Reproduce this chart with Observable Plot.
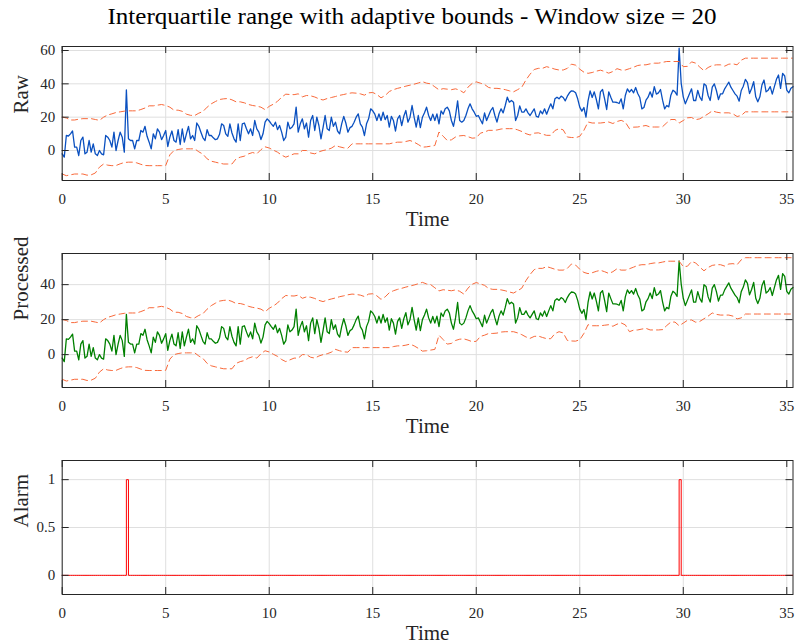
<!DOCTYPE html>
<html>
<head>
<meta charset="utf-8">
<script src="https://cdn.jsdelivr.net/npm/d3@7"></script>
<script src="https://cdn.jsdelivr.net/npm/@observablehq/plot@0.6"></script>
<style>
  body { margin: 0; background: #fff; }
  #fig { position: relative; width: 795px; height: 644px; overflow: hidden; font-family: "Liberation Serif", serif; }
  #title { position: absolute; left: 412px; top: 4px; display: inline-block; font-size: 23px; color: #000; white-space: nowrap; transform-origin: 50% 50%; }
  .panel { position: absolute; left: 0; }
</style>
</head>
<body>
<div id="fig">
  <span id="title">Interquartile range with adaptive bounds - Window size = 20</span>
</div>
<script>
// Sampling interval of the signal (s)
const dt = 0.1;

// Raw signal, one value per sample
const raw = [
  -2, -4, 9, 8.7, 10, 11.7, 2, 2, -3, 6,
  8, -2, -1, 6, -1, 4, -2, -3, 0, -2,
  -2.6, 9, 8, 6, 2, 11, 0, 6, 11, 8,
  -1, 36.3, 7, 6, 6, 1, 6, 6, 12, 11,
  14.5, 8.5, 5, 1, 10, 7, 13, 11, 6.5, 9,
  12, 2.4, 8, 11.7, 6, 5, 12.5, 3.6, 13, 5,
  10, 14.5, 7, 9, 6, 16.5, 14.5, 11, 7.6, 6,
  12.5, 9, 9, 7.6, 6.5, 7, 9.7, 16, 15, 10,
  8.5, 16, 10.5, 7, 5, 16, 6, 16, 16.5, 13,
  10, 13, 9, 18, 13, 11, 6.6, 10, 17, 19,
  17.7, 16, 14.5, 17, 12.5, 15, 11, 6, 8, 17,
  13, 14, 16, 26, 11, 16, 19, 13, 16.5, 8,
  18, 21, 12, 20, 15, 7, 13.7, 21, 13, 12,
  20, 14.5, 17, 11.7, 10, 16, 20.5, 16.5, 11, 13.7,
  14.5, 17, 20, 22, 16, 14, 9, 16, 19, 25,
  23.8, 21.8, 18, 22, 18, 23, 18.5, 21, 14, 20.5,
  18, 11.7, 19, 21, 15, 20.5, 24, 17, 20, 27,
  20, 14, 21, 13.7, 20, 22.6, 26, 21, 18, 21.8,
  18, 22, 16, 23.8, 21.8, 25, 26, 23.8, 18, 14.5,
  21, 29.8, 18, 17, 18, 21, 25, 28, 25, 23,
  20.5, 21, 18.5, 16, 22.5, 18, 21, 24, 25.8, 21,
  17, 22, 25, 22.6, 27, 32, 29, 30, 29, 18,
  21, 26.8, 23, 23, 25, 22.6, 21, 23, 25, 20.5,
  20, 23.8, 22, 25, 21.8, 25, 28, 25, 31, 32,
  31, 32.6, 31.8, 29.8, 32.6, 34.6, 35.8, 35.6, 34.6, 31,
  26, 23.6, 25.8, 20, 29.8, 35.8, 31.8, 35.2, 30.6, 25,
  35.2, 36.6, 31, 24.6, 35.2, 32, 29, 29, 28.8, 28.2,
  31, 25, 33, 37, 35, 36.6, 34.6, 37.8, 34.2, 31.8,
  25, 25.8, 30.2, 32, 35.2, 32, 38.3, 33.8, 34.6, 36.6,
  30.2, 25, 27, 26.2, 33.2, 36.2, 35.2, 33.2, 61.4, 40.3,
  32.2, 28, 31, 34, 37, 30, 30, 36, 32, 30,
  40, 39, 33, 30, 38, 40, 36, 30.6, 34, 34,
  37, 39, 41, 38, 36, 34, 32.6, 29.6, 36, 38.6,
  42.7, 40.7, 34.2, 37.2, 41.3, 32.2, 29.2, 32.2, 39.3, 42.3,
  35.2, 36.2, 38.3, 33.8, 38.3, 42.7, 45.3, 37.3, 46.3, 44.7,
  36.2, 34.6, 37.3, 38.3
];

// Adaptive bounds, listed every 0.2 s
const boundStep = 0.2;
const upperBound = [
  20.1, 19.5, 18.3, 18.3, 18.8, 19.1, 19.1, 19.1, 18.6, 18.1,
  20, 21.3, 22, 22.8, 23.2, 23.6, 23.8, 23.8, 23.8, 24.6,
  25.5, 26.8, 26.8, 27.2, 27.6, 27, 26, 24.2, 24.2, 23.5,
  21.8, 21.1, 21, 22.4, 23.4, 26, 28, 29.4, 30.6, 31,
  31.2, 30.4, 29.2, 29.2, 28.6, 27.6, 27, 26.6, 26, 24.5,
  26.5, 27.8, 29.5, 32, 33.8, 33.6, 33.5, 34, 32.2, 33,
  32.8, 32.1, 31, 30.3, 31.2, 31.8, 32.4, 33.1, 33.6, 34.2,
  34.6, 34.4, 34, 33.2, 34.6, 34.8, 33.6, 31.6, 33, 35.4,
  36.5, 37.3, 37.9, 38.6, 39.2, 39.8, 40.5, 41.3, 40.4, 40,
  38.2, 36.4, 37.1, 36.8, 36.5, 37, 36.2, 34.6, 38, 40.2,
  41.2, 40.4, 39.6, 37.8, 37.3, 37.3, 37, 36.5, 35.8, 35.2,
  36.5, 38, 42.3, 45.8, 48.6, 49.3, 49.3, 50.3, 49.6, 48.8,
  48.3, 48.3, 49.3, 51.8, 51.2, 48.8, 47, 46.3, 46.8, 47.6,
  48.2, 47.4, 46.4, 47.4, 49.1, 48.3, 48.3, 49.1, 50, 51,
  51.4, 51.4, 52, 52.4, 52.4, 52.9, 53.4, 53.4, 53.4, 53.4,
  50.3, 50.5, 53.2, 52.4, 50, 47.9, 49.8, 51, 51.4, 51.4,
  50.6, 51.8, 52, 51.4, 54.2, 55.4, 55.4, 55.4, 55.4, 55.4,
  55.4, 55.4, 55.4, 55.4, 55.4, 55.4, 55.4, 55.4
];
const lowerBound = [
  -14.1, -15.1, -14.6, -14.1, -14.1, -14.1, -14.8, -14.6, -13.5, -10,
  -8.1, -8.8, -9.1, -9, -8, -7.2, -7, -7, -7.4, -8.3,
  -9, -9.1, -9.1, -9.1, -9.1, -9, -2.6, 0, 0.6, 1,
  1, 1, 1, -0.8, -2.2, -5, -6.4, -7, -7.6, -8.1,
  -8.1, -8.1, -5, -4, -3.4, -2, -1.2, -2, 0.5, 2.2,
  1.5, 0.2, -1, -2.8, -4, -3, -2, -2, 0, 0,
  -1.5, -2, -0.8, 0, 0.5, 1.4, 3, 2.2, 1.6, 1.4,
  4, 4, 4, 4, 4, 4, 4, 4, 4, 4,
  4.6, 5, 5, 5.4, 6, 5, 3.6, 2, 2.2, 2.6,
  3, 11.1, 8.6, 6, 6.4, 8.1, 8.8, 9, 8.3, 7.4,
  7.6, 10.4, 11.1, 12.1, 12.1, 12.3, 12.9, 13.1, 13.1, 13.1,
  12.4, 11.4, 10.1, 9.3, 10.4, 10.6, 9.8, 9.1, 9.1, 12,
  13.1, 12.4, 8.1, 7.8, 7.7, 8.5, 12.1, 17.1, 16.5, 16.5,
  16.5, 16.8, 17.1, 16.2, 17.4, 18.1, 17, 13.1, 14, 14.1,
  14.6, 15, 14.1, 14.1, 14.1, 14.3, 16.6, 18.6, 18.6, 16.5,
  18, 19.6, 19.8, 18.5, 19, 20.5, 22, 23.8, 23, 22.6,
  22.6, 22.6, 22, 20.4, 21, 23.2, 23.2, 23.2, 23.2, 23.2,
  23.2, 23.2, 23.2, 23.2, 23.2, 23.2, 23.2, 23.2
];

// Samples flagged as outliers, and the value each one is replaced with
const outlierIndex = [31, 298];
const replacedValue = [23, 53.5];

// Tick values
const timeTicks = [0, 5, 10, 15, 20, 25, 30, 35];
const rawTicks = [0, 20, 40, 60];
const processedTicks = [0, 20, 40];
const alarmTicks = [0, 0.5, 1];

// Tables for the marks
const samples = raw.map((v, i) => {
  const k = outlierIndex.indexOf(i);
  return {t: i * dt, raw: v, processed: k >= 0 ? replacedValue[k] : v, alarm: k >= 0 ? 1 : 0};
});
const bounds = upperBound.map((u, j) => ({t: j * boundStep, upper: u, lower: lowerBound[j]}));

const W = 795, ML = 61.7, MR = 2.5, MT = 46;
const ink = "#262626";
const gridColor = "#dfdfdf";
const boundColor = "#f8693a";
const font = '"Liberation Serif", serif';
const fmt = d => String(d);

function panel({top, height, marginBottom, yDomain, yTicks, yLabel, marks}) {
  const fw = W - ML - MR, fh = height - MT - marginBottom, tl = 7;
  const svg = Plot.plot({
    width: W, height,
    marginLeft: ML, marginRight: MR, marginTop: MT, marginBottom,
    style: {fontFamily: font, background: "transparent", color: ink, overflow: "visible"},
    x: {domain: [0, 35.3]},
    y: {domain: yDomain},
    marks: [
      Plot.gridX(timeTicks, {stroke: gridColor, strokeOpacity: 1}),
      Plot.gridY(yTicks, {stroke: gridColor, strokeOpacity: 1}),
      ...marks,
      Plot.tickX(timeTicks, {x: d => d, insetTop: fh - tl, stroke: ink}),
      Plot.tickX(timeTicks, {x: d => d, insetBottom: fh - tl, stroke: ink}),
      Plot.tickY(yTicks, {y: d => d, insetRight: fw - tl, stroke: ink}),
      Plot.tickY(yTicks, {y: d => d, insetLeft: fw - tl, stroke: ink}),
      Plot.frame({stroke: ink, strokeWidth: 1}),
      Plot.axisX(timeTicks, {tickSize: 0, tickPadding: 13, fontSize: 15, label: null, fill: ink, tickFormat: fmt}),
      Plot.axisY(yTicks, {tickSize: 0, tickPadding: 7, fontSize: 15, label: null, fill: ink, tickFormat: fmt}),
      Plot.text([yLabel], {frameAnchor: "left", dx: -41, rotate: -90, fontSize: 21, fill: ink}),
      Plot.text(["Time"], {frameAnchor: "bottom", dy: 45, fontSize: 21, fill: ink})
    ]
  });
  svg.classList.add("panel");
  svg.style.top = top + "px";
  document.getElementById("fig").appendChild(svg);
}

const dash = "6,4";

panel({
  top: 0, height: 240, marginBottom: 60,
  yDomain: [-18, 62.4], yTicks: rawTicks, yLabel: "Raw",
  marks: [
    Plot.line(samples, {x: "t", y: "raw", stroke: "#0a50c0", strokeWidth: 1.3}),
    Plot.line(bounds, {x: "t", y: "upper", stroke: boundColor, strokeWidth: 1, strokeDasharray: dash, clip: true}),
    Plot.line(bounds, {x: "t", y: "lower", stroke: boundColor, strokeWidth: 1, strokeDasharray: dash, clip: true})
  ]
});

panel({
  top: 207, height: 240, marginBottom: 60,
  yDomain: [-18.8, 57.8], yTicks: processedTicks, yLabel: "Processed",
  marks: [
    Plot.line(samples, {x: "t", y: "processed", stroke: "#008000", strokeWidth: 1.3}),
    Plot.line(bounds, {x: "t", y: "upper", stroke: boundColor, strokeWidth: 1, strokeDasharray: dash, clip: true}),
    Plot.line(bounds, {x: "t", y: "lower", stroke: boundColor, strokeWidth: 1, strokeDasharray: dash, clip: true})
  ]
});

panel({
  top: 414, height: 230, marginBottom: 50,
  yDomain: [-0.2, 1.2], yTicks: alarmTicks, yLabel: "Alarm",
  marks: [
    Plot.line(samples, {x: "t", y: "alarm", curve: "step-after", stroke: "#ff0000", strokeWidth: 1})
  ]
});

// Stretch the title to the width of the figure's heading line
const title = document.getElementById("title");
const tw = title.getBoundingClientRect().width;
title.style.transform = `translateX(-50%) scaleX(${609 / tw})`;
</script>
</body>
</html>
